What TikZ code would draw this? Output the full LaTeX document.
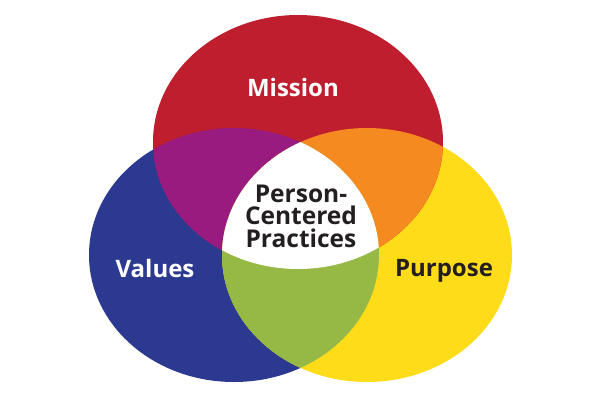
\documentclass[tikz,border=0pt]{standalone}
\usepackage{fontspec}
\setmainfont{Open Sans}
\definecolor{cred}{HTML}{BE1E2D}
\definecolor{cblue}{HTML}{2B3990}
\definecolor{cyellow}{HTML}{FEDC1A}
\definecolor{cpurple}{HTML}{991B7F}
\definecolor{corange}{HTML}{F58A20}
\definecolor{cgreen}{HTML}{96B844}
\definecolor{ctext}{HTML}{231F20}
\begin{document}
\begin{tikzpicture}[x=1pt,y=-1pt,
  lbl/.style={font=\fontsize{24}{28}\selectfont\bfseries, inner sep=0pt},
  ctr/.style={font=\fontsize{24.5}{22.5}\selectfont\bfseries, text=ctext, align=center, inner sep=0pt}]
\useasboundingbox (0,0) rectangle (600,400);
\def\redE{(298,142) ellipse [x radius=145, y radius=127]}
\def\blueE{(234,255) ellipse [x radius=145, y radius=127]}
\def\yelE{(367,255) ellipse [x radius=145, y radius=127]}
\fill[cblue] \blueE;
\fill[cyellow] \yelE;
\fill[cred] \redE;
\begin{scope}\clip \redE; \fill[cpurple] \blueE; \end{scope}
\begin{scope}\clip \redE; \fill[corange] \yelE; \end{scope}
\begin{scope}\clip \blueE; \fill[cgreen] \yelE; \end{scope}
\begin{scope}\clip \redE; \clip \blueE; \fill[white] \yelE; \end{scope}
\node[lbl, text=white] (mission) at (293,87) {Mission};
\node[lbl, text=white] (values) at (155,268) {Values};
\node[lbl, text=ctext, anchor=base] (purpose) at (444,276) {Purpose};
\node[ctr] (pcp) at (301,216) {Person-\\Centered\\Practices};
\end{tikzpicture}
\end{document}
